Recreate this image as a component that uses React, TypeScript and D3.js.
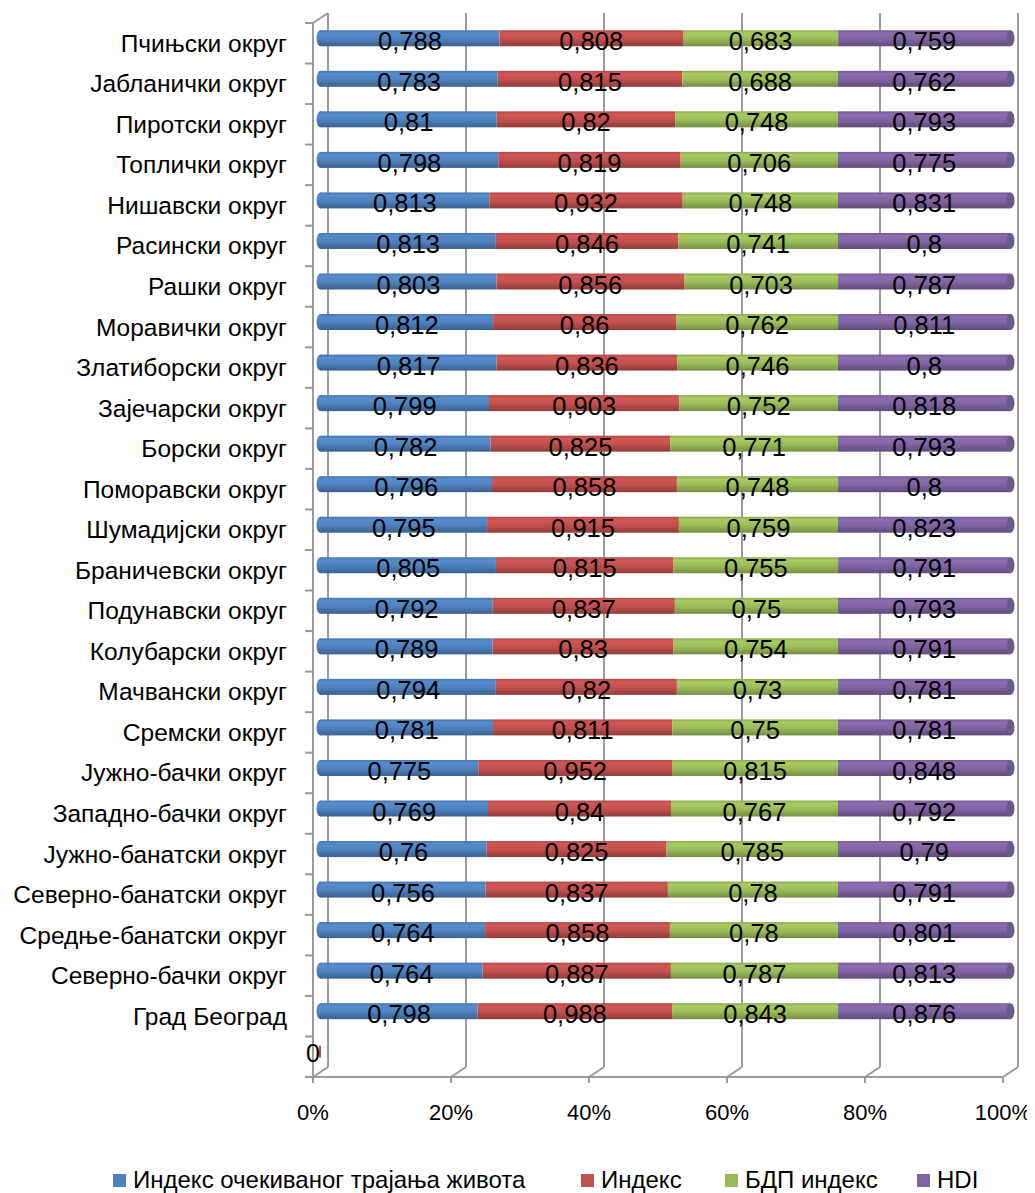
import React from "react";
import * as d3 from "d3";

const categories = [
  "Пчињски округ", "Јабланички округ", "Пиротски округ", "Топлички округ", "Нишавски округ",
  "Расински округ", "Рашки округ", "Моравички округ", "Златиборски округ", "Зајечарски округ",
  "Борски округ", "Поморавски округ", "Шумадијски округ", "Браничевски округ", "Подунавски округ",
  "Колубарски округ", "Мачвански округ", "Сремски округ", "Јужно-бачки округ", "Западно-бачки округ",
  "Јужно-банатски округ", "Северно-банатски округ", "Средње-банатски округ", "Северно-бачки округ",
  "Град Београд", "",
];
const lifeIndex = [0.788, 0.783, 0.81, 0.798, 0.813, 0.813, 0.803, 0.812, 0.817, 0.799, 0.782, 0.796, 0.795, 0.805, 0.792, 0.789, 0.794, 0.781, 0.775, 0.769, 0.76, 0.756, 0.764, 0.764, 0.798, 0];
const index2 = [0.808, 0.815, 0.82, 0.819, 0.932, 0.846, 0.856, 0.86, 0.836, 0.903, 0.825, 0.858, 0.915, 0.815, 0.837, 0.83, 0.82, 0.811, 0.952, 0.84, 0.825, 0.837, 0.858, 0.887, 0.988, 0];
const gdpIndex = [0.683, 0.688, 0.748, 0.706, 0.748, 0.741, 0.703, 0.762, 0.746, 0.752, 0.771, 0.748, 0.759, 0.755, 0.75, 0.754, 0.73, 0.75, 0.815, 0.767, 0.785, 0.78, 0.78, 0.787, 0.843, 0];
const hdi = [0.759, 0.762, 0.793, 0.775, 0.831, 0.8, 0.787, 0.811, 0.8, 0.818, 0.793, 0.8, 0.823, 0.791, 0.793, 0.791, 0.781, 0.781, 0.848, 0.792, 0.79, 0.791, 0.801, 0.813, 0.876, 0];
const seriesNames = ["Индекс очекиваног трајања живота", "Индекс", "БДП индекс", "HDI"];
const seriesColors = ["#4F81BD", "#C0504D", "#9BBB59", "#8064A2"];
const xTicks = [0, 0.2, 0.4, 0.6, 0.8, 1];

const W = 1035, H = 1193;
const X0 = 313, X1 = 1003, YT = 23, YB = 1077;
const DX = 15, DY = -10;
const BAR_H = 16;
const FONT = "'Liberation Sans', Arial, sans-serif";

export default function App() {
  const x = d3.scaleLinear().domain([0, 1]).range([X0, X1]);
  const y = d3.scaleBand<string>().domain(categories.map((c, i) => i + "")).range([YT, YB]);
  const bw = y.bandwidth();
  const seriesVals = [lifeIndex, index2, gdpIndex, hdi];
  const rows = categories.map((_, i) => ({ a: lifeIndex[i], b: index2[i], c: gdpIndex[i], d: hdi[i] }));
  const stack = d3.stack<any>().keys(["a", "b", "c", "d"]).offset(d3.stackOffsetExpand);
  const stacked = stack(rows);
  const grid = "#9a9a9a";
  const fmt = (v: number) => String(v).replace(".", ",");

  return (
    <svg width={W} height={H} style={{ display: "block", marginLeft: -8, marginTop: -8 }} fontFamily={FONT}>
      <defs>
        {seriesColors.map((c, i) => {
          const cc = d3.color(c)!;
          return (
            <linearGradient key={i} id={"g" + i} x1="0" y1="0" x2="0" y2="1">
              <stop offset="0%" stopColor={cc.darker(0.3).formatHex()} />
              <stop offset="18%" stopColor={cc.brighter(0.25).formatHex()} />
              <stop offset="55%" stopColor={c} />
              <stop offset="100%" stopColor={cc.darker(0.8).formatHex()} />
            </linearGradient>
          );
        })}
      </defs>
      <rect width={W} height={H} fill="#fff" />
      {xTicks.map((t, i) => (
        <g key={i} stroke={grid} strokeWidth={2} fill="none">
          <line x1={x(t) + DX} y1={YT + DY} x2={x(t) + DX} y2={YB + DY} />
          <line x1={x(t) + DX} y1={YB + DY} x2={x(t)} y2={YB} />
          <line x1={x(t)} y1={YB} x2={x(t)} y2={YB + 6} />
        </g>
      ))}
      <g stroke={grid} strokeWidth={2} fill="none">
        <line x1={X0} y1={YT} x2={X0} y2={YB} />
        <line x1={X0} y1={YT} x2={X0 + DX} y2={YT + DY} />
        <line x1={X0} y1={YB} x2={X1} y2={YB} />
        {d3.range(categories.length + 1).map((k) => (
          <line key={k} x1={X0 - 8} x2={X0} y1={YT + k * bw} y2={YT + k * bw} />
        ))}
      </g>
      {categories.map((c, i) => (
        <text key={i} x={287} y={(y(i + "") as number) + bw / 2 + 8.5} textAnchor="end" fontSize={24.5} fill="#000">
          {c}
        </text>
      ))}
      {categories.map((_, i) => {
        const cy = (y(i + "") as number) + bw / 2 + DY / 2;
        const total = lifeIndex[i] + index2[i] + gdpIndex[i] + hdi[i];
        if (total === 0) {
          return (
            <g key={i}>
              <rect x={x(0) + 6} y={cy - 6} width={2} height={12} fill="#C0504D" />
              <text x={x(0)} y={cy + 10} textAnchor="middle" fontSize={25} fill="#000">0</text>
            </g>
          );
        }
        const segs = stacked.map((s, k) => ({ k, x0: x(s[i][0]) + DX / 2 - 3, x1: x(s[i][1]) + DX / 2 - 3 }));
        return (
          <g key={i}>
            {segs.map((s) => (
              <g key={s.k}>
                {s.k === 0 && <ellipse cx={s.x0 + 3} cy={cy} rx={4} ry={BAR_H / 2} fill={`url(#g${s.k})`} />}
                <rect x={s.x0 + 3} y={cy - BAR_H / 2} width={s.x1 - s.x0} height={BAR_H} fill={`url(#g${s.k})`} />
                {s.k === 3 && (
                  <ellipse cx={s.x1 + 3} cy={cy} rx={4} ry={BAR_H / 2} fill={d3.color(seriesColors[3])!.darker(0.4).formatHex()} />
                )}
              </g>
            ))}
            {segs.map((s) => (
              <text key={"t" + s.k} x={(s.x0 + s.x1) / 2 + 3} y={cy + 12} textAnchor="middle" fontSize={25.5} fill="#000">
                {fmt(seriesVals[s.k][i])}
              </text>
            ))}
          </g>
        );
      })}
      {xTicks.map((t, i) => (
        <text key={i} x={x(t)} y={1120} textAnchor="middle" fontSize={22} fill="#000">
          {d3.format(".0%")(t)}
        </text>
      ))}
      {(() => {
        const pos = [113, 581, 725, 917];
        return seriesNames.map((n, k) => (
          <g key={k}>
            <rect x={pos[k]} y={1174} width={13} height={13} fill={seriesColors[k]} />
            <text x={pos[k] + 20} y={1188} fontSize={24} fill="#000">{n}</text>
          </g>
        ));
      })()}
    </svg>
  );
}
